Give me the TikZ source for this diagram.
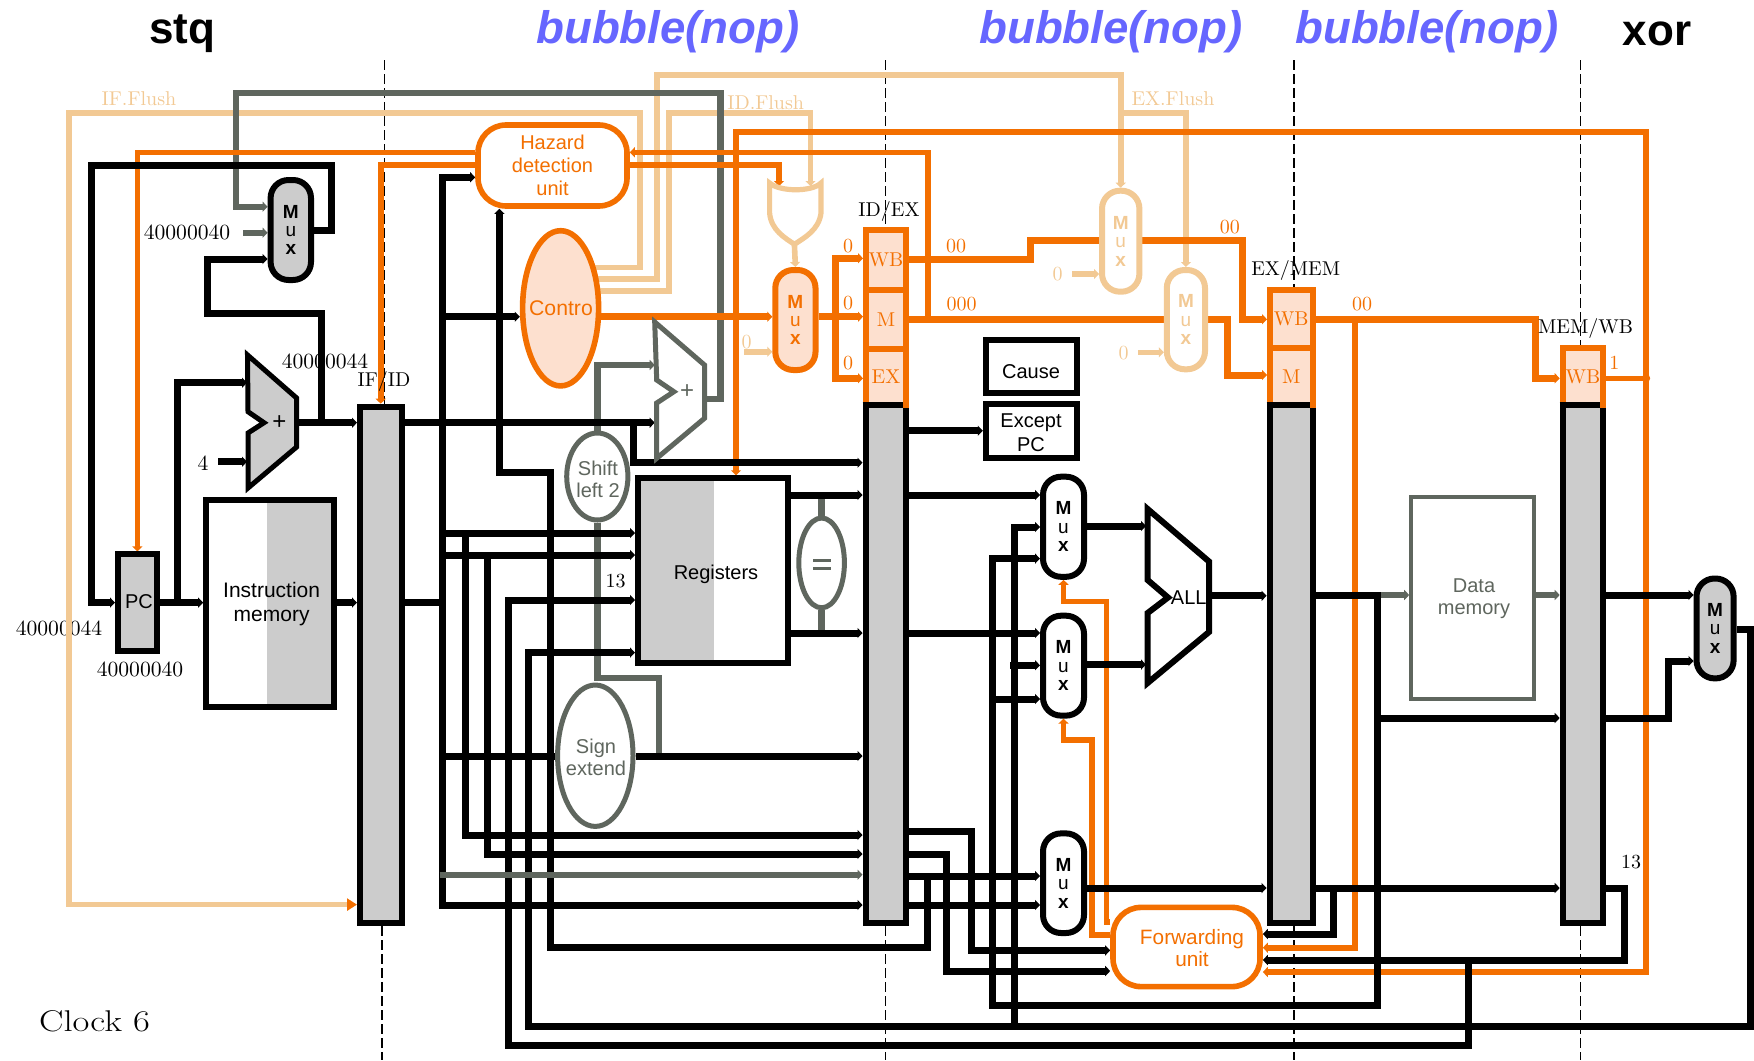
\documentclass[tikz,border=0pt]{standalone}
\usepackage{fontspec}
\setsansfont{Liberation Sans}
\usetikzlibrary{arrows.meta,shapes.geometric}
\definecolor{org}{HTML}{F36F00}
\definecolor{tanc}{HTML}{F2C994}
\definecolor{pale}{HTML}{FDE0CF}
\definecolor{dgray}{HTML}{5F665E}
\definecolor{barg}{HTML}{CCCCCC}
\definecolor{blu}{HTML}{6666FF}
\pgfdeclarelayer{low}\pgfdeclarelayer{wires}
\pgfsetlayers{low,wires,main}
\newcommand{\bx}[7]{\node[#2,minimum width={(#5-#3)*0.5pt},minimum height={(#6-#4)*0.5pt}] (#1) at ({(#3+#5)/2},{(#4+#6)/2}) {#7};}
\tikzset{
 x=0.5pt,y=-0.5pt,line join=miter,
 base/.style={inner sep=0pt,align=center},
 bar/.style={base,rectangle,draw=black,line width=3pt,fill=barg},
 ctl/.style={base,rectangle,draw=org,line width=3pt,fill=pale,text=org,font=\fontsize{10}{12}\selectfont},
 mux/.style={base,rectangle,rounded corners=9pt,draw=black,line width=3pt,fill=white,font=\sffamily\fontsize{9.5}{9.2}\selectfont},
 sans/.style={inner sep=0pt,align=center,font=\sffamily\fontsize{10}{12}\selectfont},
 srf/.style={inner sep=0pt,align=center,font=\fontsize{10}{12}\selectfont},
 dig/.style={inner sep=0pt,align=center,font=\fontsize{10.8}{12}\selectfont},
 hdr/.style={inner sep=0pt,font=\sffamily\bfseries\fontsize{22}{26}\selectfont},
 bub/.style={hdr,font=\sffamily\bfseries\itshape\fontsize{22.8}{26}\selectfont,text=blu},
 ah/.style={-{Triangle[length=2.5pt,width=5pt]}},
 ha/.style={{Triangle[length=2.5pt,width=5pt]}-},
 aa/.style={{Triangle[length=2.5pt,width=5pt]}-{Triangle[length=2.5pt,width=5pt]}},
 bw/.style={draw=black,line width=3.5pt},
 ow/.style={draw=org,line width=2.8pt},
 oW/.style={draw=org,line width=3.5pt},
 tw/.style={draw=tanc,line width=2.8pt},
 gw/.style={draw=dgray,line width=3.2pt},
 dsh/.style={draw=black,line width=0.7pt,dash pattern=on 5pt off 2pt},
}
\newcommand{\mx}{\textbf{M}\\u\\\textbf{x}}
\begin{document}
\begin{tikzpicture}
\useasboundingbox (0,0) rectangle (1754,1060);
%---- headers
\node[hdr] (hstq) at (182,34) {stq};
\node[bub] (hb1) at (668,32) {bubble(nop)};
\node[bub] (hb2) at (1111,32) {bubble(nop)};
\node[bub] (hb3) at (1427,32) {bubble(nop)};
\node[hdr] (hxor) at (1657,34) {xor};
%---- registers between stages
\bx{ifid}{bar}{360}{406.7}{401.5}{923}{}
\bx{idex}{bar}{865.5}{405}{906}{923}{}
\bx{exmem}{bar}{1269.6}{405}{1312.5}{923}{}
\bx{memwb}{bar}{1562.7}{405}{1603}{923}{}
\bx{idexwb}{ctl}{866}{230}{906}{290}{WB}
\bx{idexm}{ctl}{866}{290}{906}{349.3}{M}
\bx{idexex}{ctl}{866}{349.3}{906}{405}{EX}
\bx{exmemwb}{ctl}{1270}{290}{1312.5}{348.3}{WB}
\bx{exmemm}{ctl}{1270}{348.3}{1312.5}{405}{M}
\bx{memwbwb}{ctl}{1562.7}{348.3}{1603}{405}{WB}
%---- black frames redone over the control blocks
\draw[black,line width=3pt] (idex.north west) ++(0,3) -- ++(40.5,0);
\draw[black,line width=3pt] (exmem.north west) ++(0,3) -- ++(42.9,0);
\draw[black,line width=3pt] (memwb.north west) ++(0,3) -- ++(40.3,0);
%---- stage labels
\node[srf] (lifid) at (384,381.7) {IF/ID};
\node[srf] (lidex) at (889,211.7) {ID/EX};
\node[srf] (lexmem) at (1295.7,270) {EX/MEM};
\node[srf] (lmemwb) at (1585.6,328.3) {MEM/WB};
%---- PC side
\bx{pc}{bar}{118}{554.4}{156.7}{651}{}
\node[sans] (pct) at (139,602) {PC};
\bx{mxpc}{mux,fill=barg}{270.6}{180}{311}{280}{\mx}
\fill[barg] (267.4,500) rectangle (333.7,707);
\bx{imem}{base,rectangle,draw=black,line width=2.8pt}{206}{500}{333.7}{707}{}
\node[sans,font=\sffamily\fontsize{10.5}{12}\selectfont] (imemt) at (271.6,604) {Instruction\\memory};
\draw[black,fill=barg,line width=2.5pt] (247.5,355) -- (296.6,398) -- (296.6,447) -- (248,488) -- (248,433) -- (264,422.7) -- (248,411.7) -- cycle;
\node[sans,font=\sffamily\fontsize{12}{12}\selectfont] (addpc) at (279.4,422.7) {+};
\coordinate (addw) at (247,0);\coordinate (adde) at (298,0);
\node[dig] (c4) at (203,463) {4};
\coordinate (c4s) at (218,461.7);
\node[dig] (c40) at (187,232.7) {40000040};
\coordinate (c40s) at (243,232.7);
\node[dig] (pcv1) at (140,669) {40000040};
%---- ID stage
\bx{hazard}{base,rectangle,rounded corners=14pt,draw=org,line width=2.8pt,fill=white,text=org,font=\sffamily\fontsize{10}{11.5}\selectfont}{478}{125}{627}{206}{Hazard\\detection\\unit}
\node[base,ellipse,draw=org,line width=2.8pt,fill=pale,minimum width=38pt,minimum height=77.6pt] (ctrl) at (560.6,308.3) {};
\node[sans,text=org,font=\sffamily\fontsize{10.6}{12}\selectfont] (ctrlt) at (561,308) {Contro};
\node[base,ellipse,draw=dgray,line width=2.5pt,fill=white,minimum width=30.6pt,minimum height=43.5pt] (shift) at (597.3,476.5) {};
\node[sans,text=dgray,font=\sffamily\fontsize{10}{11}\selectfont] (shiftt) at (598,479) {Shift\\left 2};
\node[base,ellipse,draw=dgray,line width=2.5pt,fill=white,minimum width=37.7pt,minimum height=70.7pt] (signx) at (595.3,755.7) {};
\node[sans,text=dgray,font=\sffamily\fontsize{10}{11}\selectfont] (signt) at (596,757) {Sign\\extend};
\fill[barg] (639.4,478.3) rectangle (714,663);
\bx{regs}{base,rectangle,draw=black,line width=3pt}{638}{478.3}{787.5}{663}{}
\node[sans] (regst) at (716,574.4) {Registers};
\node[base,ellipse,draw=dgray,line width=2.5pt,fill=white,minimum width=22.8pt,minimum height=44.9pt] (eqz) at (821.6,562.9) {};
\node[draw=dgray,fill=dgray,inner sep=0pt,minimum width=8.5pt,minimum height=1pt] (eqa) at (821.6,560.5) {};
\node[draw=dgray,fill=dgray,inner sep=0pt,minimum width=8.5pt,minimum height=1pt] (eqb) at (821.6,568.5) {};
\draw[dgray,fill=white,line width=2.5pt] (654.7,322) -- (704.5,365) -- (704.5,418.3) -- (656.7,458.3) -- (656.7,403) -- (673.9,391.7) -- (656.7,380) -- cycle;
\node[sans,text=dgray,font=\sffamily\fontsize{12}{12}\selectfont] (addbr) at (687,391.7) {+};
\coordinate (add2w) at (654.7,0);\coordinate (add2e) at (706,0);
\node[srf] (n13a) at (615.7,581) {13};
\bx{muxid}{mux,draw=org,fill=pale,text=org}{775.3}{270}{815.5}{370}{\mx}
\draw[tanc,fill=white,line width=2.6pt] (769.6,183) -- (769.6,213) .. controls (771,230) and (785,238) .. (794.4,244.3) .. controls (804,238) and (819,230) .. (821,213) -- (821,183) .. controls (812,192) and (780,192) .. cycle;
\coordinate (nora) at (779,186);\coordinate (norb) at (810.5,186);\coordinate (norout) at (794.4,244.3);
\node[srf,text=tanc] (z1) at (746.6,341.7) {0};
\node[srf,text=org] (z2) at (848,246) {0};
\node[srf,text=org] (z3) at (848,302.7) {0};
\node[srf,text=org] (z4) at (848,362.7) {0};
\node[srf,text=org] (n00a) at (956,246) {00};
\node[srf,text=org] (n000) at (961.7,304.3) {000};
\node[srf,text=org] (n00b) at (1229.8,227.3) {00};
\node[srf,text=org] (n00c) at (1362,304) {00};
\node[srf,text=org] (n1) at (1614.4,363.3) {1};
%---- flush labels
\node[srf,text=tanc] (fl1) at (139,98.3) {IF.Flush};
\node[srf,text=tanc] (fl2) at (765.7,102.3) {ID.Flush};
\node[srf,text=tanc] (fl3) at (1173,98.3) {EX.Flush};
%---- EX flush muxes
\bx{mxex1}{mux,draw=tanc,text=tanc}{1102}{190.7}{1139.4}{291.7}{\mx}
\bx{mxex2}{mux,draw=tanc,text=tanc}{1166.8}{270}{1205}{369.3}{\mx}
\node[srf,text=tanc] (z5) at (1057.7,274) {0};
\coordinate (z5s) at (1072,274);
\node[srf,text=tanc] (z6) at (1123.6,353.3) {0};
\coordinate (z6s) at (1138,352.3);
%---- cause, except
\bx{cause}{base,rectangle,draw=black,line width=3pt,fill=white}{985.8}{340}{1077}{393}{}
\node[sans] (causet) at (1031,372) {Cause};
\bx{exc}{base,rectangle,draw=black,line width=3pt,fill=white}{985.8}{404.3}{1077}{458.3}{}
\node[sans] (exct) at (1031,433) {Except\\PC};
%---- EX stage
\bx{mxa}{mux}{1043}{476.7}{1084}{576.8}{\mx}
\bx{mxb}{mux}{1043}{615.7}{1084}{715.6}{\mx}
\bx{mxc}{mux}{1043}{833.4}{1084}{933}{\mx}
\draw[black,fill=white,line width=3pt] (1147.6,509) -- (1209,561.5) -- (1209,632) -- (1147.6,683) -- (1147.6,613) -- (1168,597.5) -- (1147.6,580) -- cycle;
\node[sans] (alut) at (1188.7,597.5) {ALL};
\coordinate (aluw) at (1146,0);\coordinate (alue) at (1211,0);
\bx{fwd}{base,rectangle,rounded corners=14pt,draw=org,line width=2.8pt,fill=white}{1113}{907.4}{1260}{986.6}{}
\node[sans,text=org,font=\sffamily\fontsize{10.4}{11}\selectfont] (fwdt) at (1192,948) {Forwarding\\unit};
\bx{dmem}{base,rectangle,draw=dgray,line width=1.8pt,fill=white}{1411}{496.7}{1534}{699}{}
\node[sans,text=dgray,font=\sffamily\fontsize{10}{11}\selectfont] (dmemt) at (1474,598.5) {Data\\memory};
\bx{mxwb}{mux,fill=barg}{1696.5}{578.5}{1733.6}{678.4}{\mx}
\node[srf] (n13b) at (1631,862) {13};
\node[srf,font=\fontsize{15}{18}\selectfont] (clock) at (94.5,1021.7) {\scalebox{1.22}[1]{Clock 6}};
%---- gray bus on top of the black wires
\coordinate (gbus) at (439.5,874.7);
\draw[gw,ah] (gbus) -- (idex.west |- gbus);
%==== low layer
\begin{pgfonlayer}{low}
\node[dig] (n44a) at (325,361.7) {40000044};
\node[dig] (n44b) at (59,628.5) {40000044};
\coordinate (d1a) at (384.6,60);\coordinate (d1b) at (382,1060);
\coordinate (d2a) at (885.5,60);\coordinate (d2b) at (885.5,1060);
\coordinate (d3a) at (1294,60);\coordinate (d3b) at (1294,1060);
\coordinate (d4a) at (1580.4,60);\coordinate (d4b) at (1580.4,1060);
\draw[dsh] (d1a) -- (ifid.north -| d1a);
\draw[dsh] (ifid.south -| d1b) -- (d1b);
\draw[dsh] (d2a) -- (idexwb.north -| d2a);
\draw[dsh] (idex.south -| d2b) -- (d2b);
\draw[dsh] (d3a) -- (exmemwb.north -| d3a);
\draw[dsh] (exmem.south -| d3b) -- (d3b);
\draw[dsh] (d4a) -- (memwbwb.north -| d4a);
\draw[dsh] (memwb.south -| d4b) -- (d4b);
\end{pgfonlayer}
%==== wires
\begin{pgfonlayer}{wires}
%-- tan
\draw[tw,-{Triangle[length=5pt,width=6pt,color=org]}] (ctrl.center |- 0,267.3) -- (640,267.3) -- (640,112.7) -- (69,112.7) -- (69,904.6) -- (ifid.west |- 0,904.6);
\draw[tw,ah] (ctrl.center |- 0,279) -- (656.7,279) -- (656.7,75) -- (mxex1.north |- 0,75) -- (mxex1.north);
\draw[tw,ah] (mxex1.north |- 0,112.7) -- (mxex2.north |- 0,112.7) -- (mxex2.north);
\draw[tw,ah] (ctrl.center |- 0,290.7) -- (669,290.7) -- (669,112.7) -- (norb |- 0,112.7) -- (norb);
\draw[tw,ah] (norout) -- (muxid.north);
\draw[tw,ah] (z1.south) -- (z1.south |- 0,351.7) -- (muxid.west |- 0,351.7);
\draw[tw,ah] (z5s) -- (mxex1.west |- z5s);
\draw[tw,ah] (z6s) -- (mxex2.west |- z6s);
%-- gray
\draw[gw,ah] (add2e |- 0,399) -- (720.6,399) -- (720.6,92.7) -- (236,92.7) -- (236,206.7) -- (mxpc.west |- 0,206.7);
\draw[gw,ah] (c40s) -- (mxpc.west |- c40s);
\draw[gw,ah] (shift.north) -- (shift.north |- 0,365) -- (add2w |- 0,365);
\draw[gw] (shift.south) -- (shift.south |- 0,677.7) -- (659,677.7) -- (659,756);
\draw[gw] (eqz.north) -- (eqz.north |- 0,495);
\draw[gw] (eqz.south) -- (eqz.south |- 0,633);
\draw[gw,ah] (1377.7,595) -- (dmem.west |- 0,595);
\draw[gw,ah] (dmem.east |- 0,595) -- (memwb.west |- 0,595);
%-- orange
\draw[ow,ah] (hazard.west |- 0,152.3) -- (pc.north |- 0,152.3) -- (pc.north);
\draw[ow,ah] (hazard.west |- 0,165) -- (ifid.north |- 0,165) -- (ifid.north);
\draw[ow,ha] (hazard.east |- 0,152.3) -- (928,152.3) -- (928,323);
\draw[ow,ah] (hazard.east |- 0,165) -- (nora |- 0,165) -- (nora);
\draw[ow,aa] (736,0 |- regs.north) -- (736,131.7) -- (1646,131.7) -- (1646,972) -- (fwd.east |- 0,972);
\draw[oW,ah] (ctrl.center |- 0,316.7) -- (muxid.west |- 0,316.7);
\draw[oW,ah] (muxid.east |- 0,316.7) -- (idexm.west |- 0,316.7);
\draw[oW,aa] (idexwb.west |- 0,258.3) -- (835.8,258.3) -- (835.8,378.3) -- (idexex.west |- 0,378.3);
\draw[oW,ah] (idexwb.east |- 0,259) -- (1030,259) -- (1030,240) -- (1242.8,240) -- (1242.8,319.3) -- (exmemwb.west |- 0,319.3);
\draw[oW,ah] (idexm.east |- 0,319.3) -- (1227,319.3) -- (1227,375) -- (exmemm.west |- 0,375);
\draw[oW,ah] (exmemwb.east |- 0,319.3) -- (1535,319.3) -- (1535,378.3) -- (memwbwb.west |- 0,378.3);
\draw[ow,ah] (1355,319.3) -- (1355,947.7) -- (fwd.east |- 0,947.7);
\draw[ow,-{Circle[length=4pt]}] (memwbwb.east |- 0,378.3) -- (1650,378.3);
\draw[ow,ah] (fwd.west |- 0,922) -- (1106.6,922) -- (1106.6,601.6) -- (mxa.south |- 0,601.6) -- (mxa.south);
\draw[ow,ah] (fwd.west |- 0,935) -- (1092,935) -- (1092,739.7) -- (mxb.south |- 0,739.7) -- (mxb.south);
%-- black
\draw[bw,ah] (mxpc.east |- 0,230.7) -- (331,230.7) -- (331,165) -- (91,165) -- (91,602.6) -- (pc.west |- 0,602.6);
\draw[bw,ah] (adde |- 0,422.7) -- (ifid.west |- 0,422.7);
\draw[bw,ah] (321,422.7) -- (321,313) -- (207,313) -- (207,259) -- (mxpc.west |- 0,259);
\draw[bw,ah] (pc.east |- 0,602.6) -- (imem.west |- 0,602.6);
\draw[bw,ah] (177,602.6) -- (177,382.7) -- (addw |- 0,382.7);
\draw[bw,ah] (c4s) -- (addw |- c4s);
\draw[bw,ah] (imem.east |- 0,602.6) -- (ifid.west |- 0,602.6);
\draw[bw] (ifid.east |- 0,602.6) -- (442.8,602.6);
\draw[bw,aa] (hazard.west |- 0,177.3) -- (442.8,177.3) -- (442.8,905) -- (idex.west |- 0,905);
\draw[bw,ah] (442.8,316.7) -- (ctrl.west |- 0,316.7);
\draw[bw,ah] (ifid.east |- 0,422.7) -- (add2w |- 0,422.7);
\draw[bw,ah] (633.7,422.7) -- (633.7,462.7) -- (idex.west |- 0,462.7);
\draw[bw,ha] (499.4,0 |- hazard.south) -- (499.4,472.7) -- (550,472.7) -- (550,947) -- (927.5,947) -- (927.5,876);
\draw[bw,ah] (442.8,533) -- (regs.west |- 0,533);
\draw[bw,ah] (442.8,555) -- (regs.west |- 0,555);
\draw[bw,ah] (465,533) -- (465,835) -- (idex.west |- 0,835);
\draw[bw,ah] (487,555) -- (487,854) -- (idex.west |- 0,854);
\draw[bw] (442.8,756) -- (signx.west |- 0,756);
\draw[bw,ah] (signx.east |- 0,756) -- (idex.west |- 0,756);
\draw[bw,ha] (regs.west |- 0,600) -- (508,600) -- (508,1045) -- (1468.5,1045) -- (1468.5,960);
\draw[bw,ha] (regs.west |- 0,652.6) -- (528.6,652.6) -- (528.6,1026) -- (1750.5,1026) -- (1750.5,629.5) -- (mxwb.east |- 0,629.5);
\draw[bw,ah] (1014.6,1026) -- (1014.6,527) -- (mxa.west |- 0,527);
\draw[bw,ah] (1010,665.3) -- (mxb.west |- 0,665.3);
\draw[bw,ah] (regs.east |- 0,495) -- (idex.west |- 0,495);
\draw[bw,ah] (regs.east |- 0,633) -- (idex.west |- 0,633);
\draw[bw,ah] (idex.east |- 0,495) -- (mxa.west |- 0,495);
\draw[bw,ah] (idex.east |- 0,633) -- (mxb.west |- 0,633);
\draw[bw,ah] (idex.east |- 0,430.7) -- (exc.west |- 0,430.7);
\draw[bw,ah] (idex.east |- 0,876) -- (mxc.west |- 0,876);
\draw[bw,ah] (idex.east |- 0,905) -- (mxc.west |- 0,905);
\draw[bw,ah] (idex.east |- 0,831.6) -- (971,831.6) -- (971,950.4) -- (fwd.west |- 0,950.4);
\draw[bw,ah] (idex.east |- 0,854) -- (946,854) -- (946,971) -- (fwd.west |- 0,971);
\draw[bw,ah] (mxa.east |- 0,526) -- (aluw |- 0,526);
\draw[bw,ah] (mxb.east |- 0,664.6) -- (aluw |- 0,664.6);
\draw[bw,ah] (alue |- 0,595.8) -- (exmem.west |- 0,595.8);
\draw[bw,ah] (exmem.east |- 0,595) -- (1377.7,595) -- (1377.7,1005.5) -- (992,1005.5) -- (992,558.6) -- (mxa.west |- 0,558.6);
\draw[bw,ah] (992,699) -- (mxb.west |- 0,699);
\draw[bw,ah] (1377.7,718) -- (memwb.west |- 0,718);
\draw[bw,ah] (memwb.east |- 0,595) -- (mxwb.west |- 0,595);
\draw[bw,ah] (memwb.east |- 0,718) -- (1668,718) -- (1668,661) -- (mxwb.west |- 0,661);
\draw[bw,ah] (mxc.east |- 0,888) -- (exmem.west |- 0,888);
\draw[bw,ah] (exmem.east |- 0,888) -- (memwb.west |- 0,888);
\draw[bw,ah] (memwb.east |- 0,888) -- (1624,888) -- (1624,960) -- (fwd.east |- 0,960);
\draw[bw,ah] (1333.6,888) -- (1333.6,934) -- (fwd.east |- 0,934);
\end{pgfonlayer}
\end{tikzpicture}
\end{document}
